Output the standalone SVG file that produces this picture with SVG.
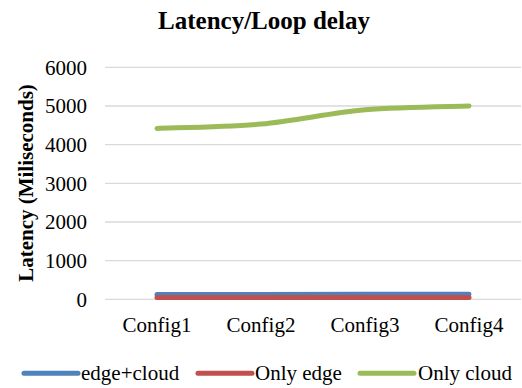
<svg xmlns="http://www.w3.org/2000/svg" width="522" height="388" viewBox="0 0 522 388">
<style>
text{fill:#000}
.tick{font-size:21px;text-anchor:end}
.cat{font-size:21px;text-anchor:middle}
.leg{font-size:21px}
.grid{stroke:#d9d9d9;stroke-width:1.3;fill:none}
.ser{fill:none;stroke-width:5;stroke-linecap:round;stroke-linejoin:round}
.blue{stroke:#4f81bd}
.red{stroke:#c0504d}
.green{stroke:#9bbb59}
</style>
<rect width="522" height="388" fill="#fff"/>
<g id="title"><text font-family="Liberation Serif, serif" x="264" y="29" font-size="25" font-weight="bold" text-anchor="middle">Latency/Loop delay</text></g>
<g id="y-axis-title"><text font-family="Liberation Serif, serif" transform="translate(33,183) rotate(-90)" font-size="21" font-weight="bold" text-anchor="middle">Latency (Miliseconds)</text></g>
<g id="gridlines">
<path class="grid" d="M105 67.3H521M105 106H521M105 144.6H521M105 183.3H521M105 222H521M105 260.6H521M105 299.3H521"/>
</g>
<g id="y-ticks" font-family="Liberation Serif, serif">
<text font-family="Liberation Serif, serif" class="tick" x="87" y="74.5">6000</text>
<text font-family="Liberation Serif, serif" class="tick" x="87" y="113.2">5000</text>
<text font-family="Liberation Serif, serif" class="tick" x="87" y="151.8">4000</text>
<text font-family="Liberation Serif, serif" class="tick" x="87" y="190.5">3000</text>
<text font-family="Liberation Serif, serif" class="tick" x="87" y="229.2">2000</text>
<text font-family="Liberation Serif, serif" class="tick" x="87" y="267.8">1000</text>
<text font-family="Liberation Serif, serif" class="tick" x="87" y="306.5">0</text>
</g>
<g id="x-ticks">
<text font-family="Liberation Serif, serif" class="cat" x="157" y="332">Config1</text>
<text font-family="Liberation Serif, serif" class="cat" x="261" y="332">Config2</text>
<text font-family="Liberation Serif, serif" class="cat" x="365" y="332">Config3</text>
<text font-family="Liberation Serif, serif" class="cat" x="469" y="332">Config4</text>
</g>
<g id="connectors">
<path id="series-edge-cloud" class="ser blue" d="M157 294.4L261 294.4L365 294.3L469 294.2"/>
<path id="series-only-edge" class="ser red" d="M157 297.6L261 297.6L365 297.6L469 297.6"/>
<path id="series-only-cloud" class="ser green" d="M157 128.4C174.3 127.7 226.3 127.2 261 124.1C295.7 121 330.3 112.8 365 109.8C399.7 106.8 451.7 106.6 469 106"/>
</g>
<g id="legend">
<line class="ser blue" x1="24" y1="373.3" x2="78" y2="373.3"/>
<text font-family="Liberation Serif, serif" class="leg" x="81" y="380">edge+cloud</text>
<line class="ser red" x1="198" y1="373.3" x2="252" y2="373.3"/>
<text font-family="Liberation Serif, serif" class="leg" x="255" y="380">Only edge</text>
<line class="ser green" x1="360" y1="373.3" x2="414" y2="373.3"/>
<text font-family="Liberation Serif, serif" class="leg" x="418" y="380">Only cloud</text>
</g>
</svg>
